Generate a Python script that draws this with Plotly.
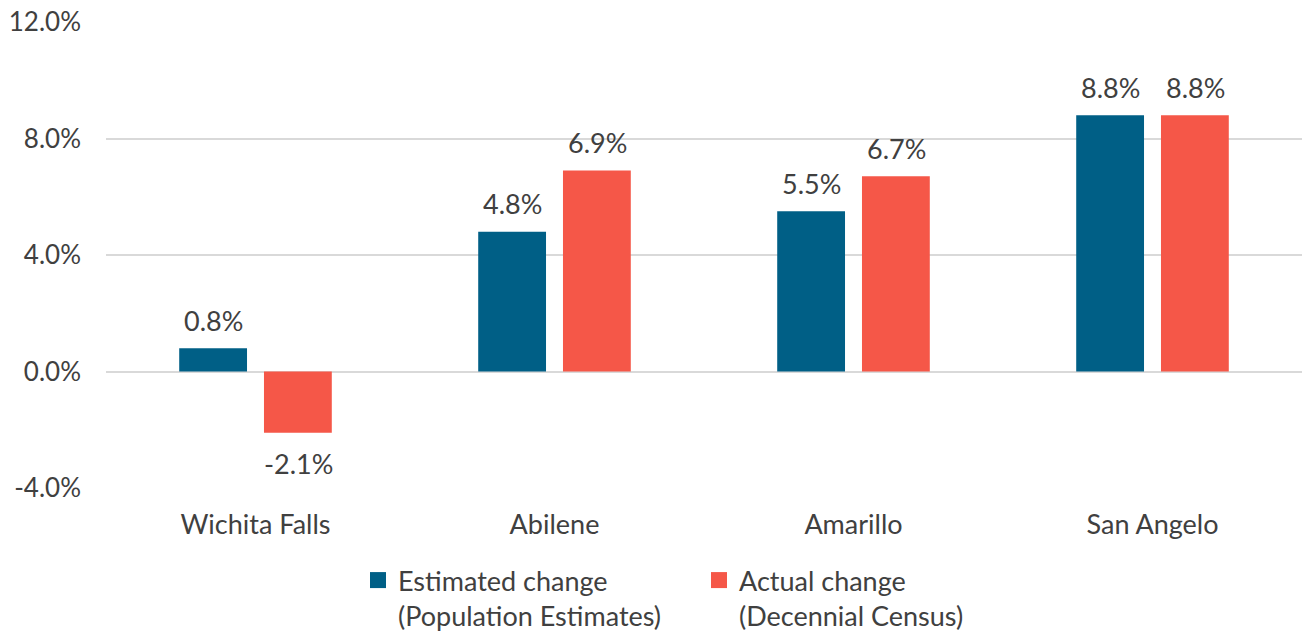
import plotly.graph_objects as go

categories = ["Wichita Falls", "Abilene", "Amarillo", "San Angelo"]
estimated = [0.8, 4.8, 5.5, 8.8]
actual = [-2.1, 6.9, 6.7, 8.8]
series_names = ["Estimated change<br>(Population Estimates)", "Actual change<br>(Decennial Census)"]
series_colors = ["#005F86", "#F55748"]
tick_vals = [-4, 0, 4, 8, 12]
tick_text = ["-4.0%", "0.0%", "4.0%", "8.0%", "12.0%"]

FONT = "Lato"
TXT = "#404040"

fig = go.Figure()
for vals, name, col in zip([estimated, actual], series_names, series_colors):
    fig.add_trace(go.Bar(
        x=categories, y=vals, name=name, showlegend=False,
        marker=dict(color=col, line=dict(width=0)),
    ))
    # legend swatch
    fig.add_trace(go.Scatter(
        x=[None], y=[None], mode="markers", name=name,
        marker=dict(symbol="square", size=18, color=col),
    ))

# data labels, positioned at each bar's value via the axis scales
slot_shift = 42.5
for vals, sgn in zip([estimated, actual], [-1, 1]):
    for cat, v in zip(categories, vals):
        fig.add_annotation(
            x=cat, y=v, xref="x", yref="y", text=f"{v:.1f}%", showarrow=False,
            xshift=sgn * slot_shift, yshift=28 if v >= 0 else -31,
            xanchor="center", yanchor="middle",
            font=dict(size=27, color=TXT, family=FONT),
        )

fig.update_layout(
    width=1302, height=635,
    margin=dict(l=106, r=0, t=22, b=147, autoexpand=False),
    paper_bgcolor="white", plot_bgcolor="white",
    barmode="group", bargap=0.433, bargroupgap=0.2,
    font=dict(family=FONT, color=TXT, size=27),
    showlegend=True,
    legend=dict(orientation="h", x=0.2107, xanchor="left", y=-0.146, yanchor="top",
                valign="top", font=dict(size=27, color=TXT, family=FONT),
                entrywidth=296, entrywidthmode="pixels",
                itemsizing="trace", tracegroupgap=0),
    xaxis=dict(showgrid=False, showline=False, ticks="", tickfont=dict(size=27, color=TXT),
               ticklabelstandoff=18),
    yaxis=dict(range=[-4, 12], tickvals=tick_vals, ticktext=tick_text,
               showgrid=True, gridcolor="#D9D9D9", gridwidth=1.5,
               zeroline=True, zerolinecolor="#D9D9D9", zerolinewidth=1.5,
               showline=False, ticks="", tickfont=dict(size=26, color=TXT),
               ticklabelstandoff=24),
)

fig.write_html("out.html")
